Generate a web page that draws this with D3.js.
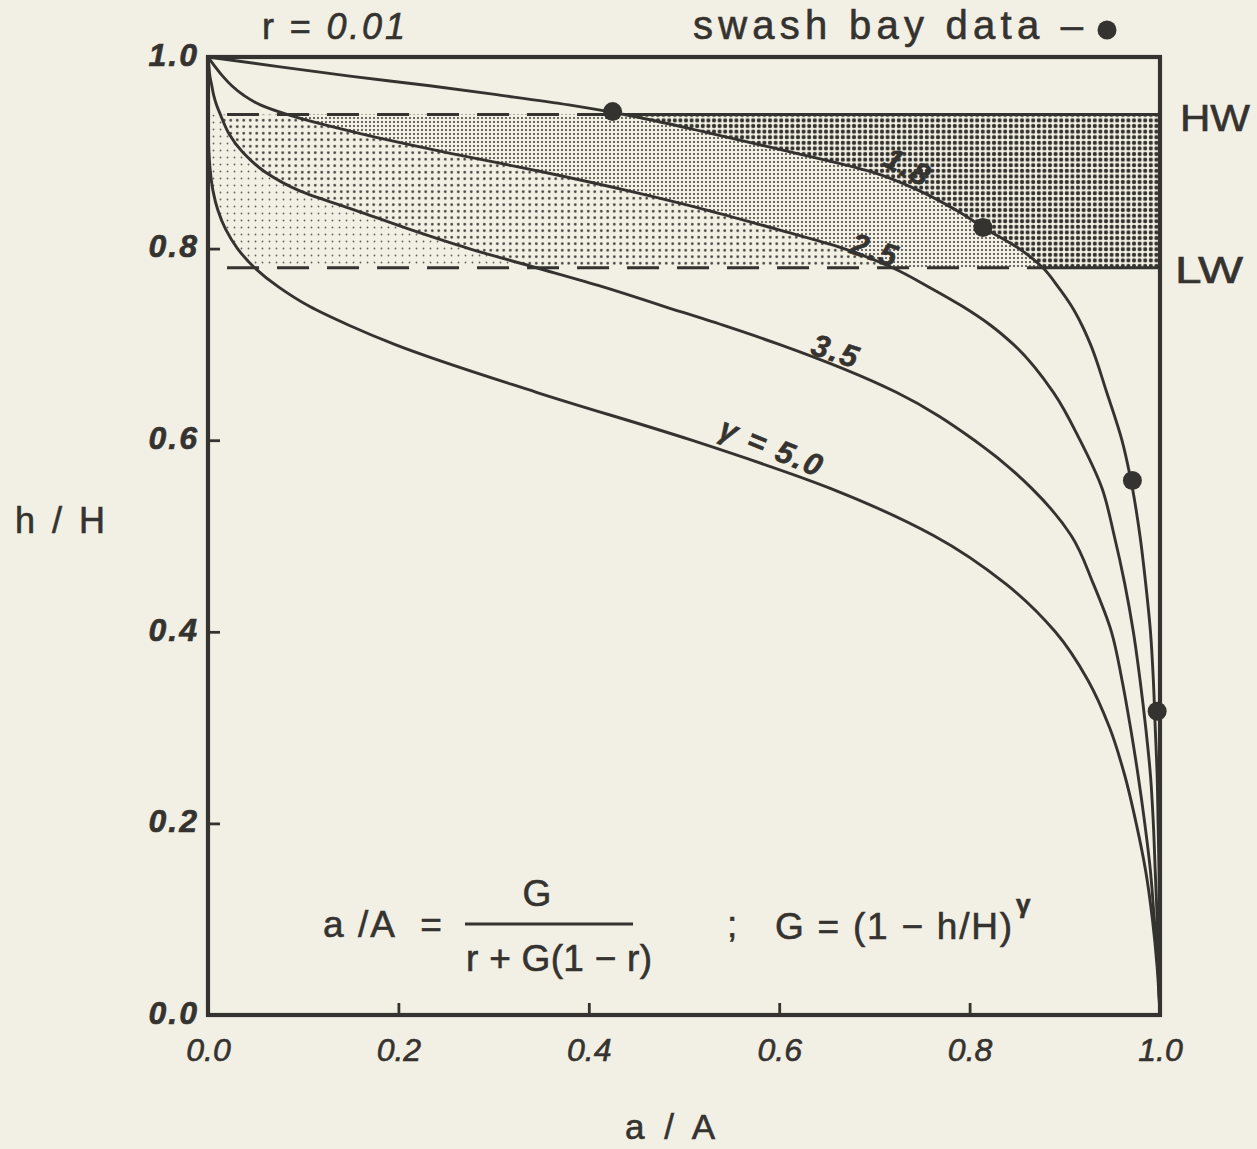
<!DOCTYPE html>
<html>
<head>
<meta charset="utf-8">
<script src="https://cdn.jsdelivr.net/npm/d3@7"></script>
<style>
  body { margin: 0; background: #f2efe4; }
  svg { display: block; }
  text { fill: #35332f; stroke: #35332f; stroke-width: 0.6px; font-family: "Liberation Sans", Arial, sans-serif; }
</style>
</head>
<body>
<svg id="chart" width="1257" height="1149"></svg>
<script>
// h/H values shared by every curve (read downwards from the top of the plot)
const hGrid = [1.0, 0.99, 0.98, 0.97, 0.96, 0.95, 0.94, 0.92, 0.90, 0.88, 0.86, 0.84, 0.82, 0.80,
  0.78, 0.76, 0.74, 0.72, 0.70, 0.65, 0.60, 0.55, 0.50, 0.45, 0.40, 0.35, 0.30, 0.25, 0.20,
  0.15, 0.10, 0.05, 0.0];

const aGamma18 = [0, 0.074, 0.149, 0.233, 0.308, 0.379, 0.437, 0.529, 0.616, 0.697, 0.748, 0.786,
  0.818, 0.852, 0.877, 0.893, 0.907, 0.918, 0.927, 0.944, 0.960, 0.971, 0.979, 0.985, 0.990,
  0.993, 0.995, 0.997, 0.998, 0.999, 0.9995, 1.0, 1.0];
const aGamma25 = [0, 0.0074, 0.0154, 0.025, 0.0375, 0.055, 0.083, 0.160, 0.252, 0.352, 0.443,
  0.525, 0.598, 0.668, 0.719, 0.757, 0.792, 0.822, 0.846, 0.888, 0.916, 0.939, 0.952, 0.963,
  0.972, 0.979, 0.985, 0.990, 0.993, 0.995, 0.997, 0.998, 1.0];
const aGamma35 = [0, 0.001, 0.002, 0.004, 0.006, 0.009, 0.013, 0.022, 0.037, 0.060, 0.097, 0.155,
  0.212, 0.274, 0.345, 0.415, 0.478, 0.541, 0.600, 0.723, 0.805, 0.865, 0.907, 0.930, 0.949,
  0.960, 0.969, 0.977, 0.984, 0.990, 0.994, 0.998, 1.0];
const aGamma50 = [0, 0, 0, 0, 0, 0, 0.0001, 0.0003, 0.001, 0.0025, 0.0053, 0.0104, 0.0186, 0.031,
  0.049, 0.074, 0.106, 0.148, 0.196, 0.345, 0.508, 0.653, 0.763, 0.838, 0.890, 0.924, 0.947,
  0.963, 0.975, 0.985, 0.992, 0.997, 1.0];

const gammaLabels = ["1.8", "2.5", "3.5", "γ = 5.0"];

// swash bay observations
const swashA = [0.425, 0.814, 0.971, 0.997];
const swashH = [0.943, 0.822, 0.558, 0.317];

const tideHW = 0.94, tideLW = 0.78;
const tickValues = [0, 0.2, 0.4, 0.6, 0.8, 1.0];

const ink = "#35332f";
const svg = d3.select("#chart");

const x = d3.scaleLinear().domain([0, 1]).range([208, 1160]);
const y = d3.scaleLinear().domain([0, 1]).range([1015, 57]);

// halftone screens
const defs = svg.append("defs");
function dots(id, size, r, op) {
  const p = defs.append("pattern")
    .attr("id", id)
    .attr("patternUnits", "userSpaceOnUse")
    .attr("width", size)
    .attr("height", size);
  p.append("circle")
    .attr("cx", size / 2)
    .attr("cy", size / 2)
    .attr("r", r)
    .attr("fill", ink)
    .attr("fill-opacity", op);
}
dots("dotA", 5.6, 2.1, 1);
dots("dotB", 4, 1.0, 0.95);
dots("dotC", 6.5, 1.35, 0.95);
dots("dotD", 7, 0.9, 0.75);

defs.append("clipPath").attr("id", "tideBand")
  .append("rect")
  .attr("x", x(0))
  .attr("y", y(tideHW))
  .attr("width", x(1) - x(0))
  .attr("height", y(tideLW) - y(tideHW));

const ones = hGrid.map(function () { return 1; });

function between(left, right) {
  return d3.area()
    .curve(d3.curveMonotoneY)
    .y(function (d, i) { return y(hGrid[i]); })
    .x0(function (d, i) { return x(left[i]); })
    .x1(function (d, i) { return x(right[i]); })(hGrid);
}

const band = svg.append("g").attr("clip-path", "url(#tideBand)");
band.append("path").attr("d", between(aGamma18, ones)).attr("fill", "url(#dotA)");
band.append("path").attr("d", between(aGamma25, aGamma18)).attr("fill", "url(#dotB)");
band.append("path").attr("d", between(aGamma35, aGamma25)).attr("fill", "url(#dotC)");
band.append("path").attr("d", between(aGamma50, aGamma35)).attr("fill", "url(#dotD)");

// HW / LW levels: dashed to the 1.8 curve, solid edge of the dark screen after it
const hwEdge = aGamma18[hGrid.indexOf(tideHW)];
const lwEdge = aGamma18[hGrid.indexOf(tideLW)];
[[tideHW, hwEdge], [tideLW, lwEdge]].forEach(function (lv) {
  svg.append("line")
    .attr("x1", x(0.02)).attr("x2", x(lv[1]))
    .attr("y1", y(lv[0])).attr("y2", y(lv[0]))
    .attr("stroke", ink).attr("stroke-width", 2.8)
    .attr("stroke-dasharray", "32,18");
  svg.append("line")
    .attr("x1", x(lv[1])).attr("x2", x(1))
    .attr("y1", y(lv[0])).attr("y2", y(lv[0]))
    .attr("stroke", ink).attr("stroke-width", 2.8);
});

// curves
const line = d3.line()
  .curve(d3.curveMonotoneY)
  .x(function (d) { return x(d); })
  .y(function (d, i) { return y(hGrid[i]); });

[aGamma18, aGamma25, aGamma35, aGamma50].forEach(function (s) {
  svg.append("path")
    .attr("d", line(s))
    .attr("fill", "none")
    .attr("stroke", ink)
    .attr("stroke-width", 2.9);
});

// frame
svg.append("rect")
  .attr("x", x(0)).attr("y", y(1))
  .attr("width", x(1) - x(0)).attr("height", y(0) - y(1))
  .attr("fill", "none")
  .attr("stroke", ink)
  .attr("stroke-width", 4.2);

// axes with inward ticks
const yAxis = svg.append("g")
  .attr("transform", "translate(" + x(0) + ",0)")
  .call(d3.axisLeft(y).tickValues(tickValues).tickSize(-12).tickSizeOuter(0).tickPadding(9)
    .tickFormat(d3.format(".1f")));
const xAxis = svg.append("g")
  .attr("transform", "translate(0," + y(0) + ")")
  .call(d3.axisBottom(x).tickValues(tickValues).tickSize(-12).tickSizeOuter(0).tickPadding(20)
    .tickFormat(d3.format(".1f")));
[yAxis, xAxis].forEach(function (a) {
  a.select(".domain").remove();
  a.selectAll(".tick line").attr("stroke", ink).attr("stroke-width", 2.8);
  a.attr("font-family", null).attr("font-size", null);
});
yAxis.selectAll(".tick text")
  .attr("fill", ink)
  .style("font-size", "32px")
  .style("font-style", "italic")
  .style("font-weight", "bold")
  .style("letter-spacing", "2px")
  .attr("dy", "0.26em");
xAxis.selectAll(".tick text")
  .attr("fill", ink)
  .style("font-family", "'Liberation Sans Narrow', 'Liberation Sans', sans-serif")
  .style("font-size", "32px")
  .style("font-style", "italic")
  .attr("dy", "0.8em");

// swash bay data points
svg.selectAll(".swash")
  .data(swashA)
  .enter().append("circle")
  .attr("class", "swash")
  .attr("cx", function (d) { return x(d); })
  .attr("cy", function (d, i) { return y(swashH[i]); })
  .attr("r", 9.5)
  .attr("fill", ink);

// curve labels
const labelPos = [[908, 167, 28], [875, 250, 18], [836, 351, 18], [772, 447, 22]];
svg.selectAll(".glabel")
  .data(gammaLabels)
  .enter().append("text")
  .attr("class", "glabel")
  .attr("text-anchor", "middle")
  .attr("transform", function (d, i) {
    return "translate(" + labelPos[i][0] + "," + labelPos[i][1] + ") rotate(" + labelPos[i][2] + ")";
  })
  .attr("dy", "0.35em")
  .style("font-size", "31px")
  .style("font-style", "italic")
  .style("font-weight", "bold")
  .style("letter-spacing", "2px")
  .text(function (d) { return d; });

// titles
const rTitle = svg.append("text").attr("x", 262).attr("y", 39)
  .attr("textLength", 143).attr("lengthAdjust", "spacing")
  .style("font-size", "36px");
rTitle.append("tspan").text("r = ");
rTitle.append("tspan").style("font-style", "italic").text("0.01");

svg.append("text")
  .attr("x", 693).attr("y", 39)
  .attr("textLength", 390).attr("lengthAdjust", "spacing")
  .style("font-size", "40px")
  .text("swash bay data –");
svg.append("circle").attr("cx", 1107).attr("cy", 30).attr("r", 9.5).attr("fill", ink);

svg.append("text").attr("x", 1180).attr("y", 131)
  .attr("textLength", 70).attr("lengthAdjust", "spacingAndGlyphs")
  .style("font-size", "36px").text("HW");
svg.append("text").attr("x", 1175).attr("y", 283)
  .attr("textLength", 68).attr("lengthAdjust", "spacingAndGlyphs")
  .style("font-size", "36px").text("LW");

svg.append("text")
  .attr("x", 15).attr("y", 533)
  .attr("textLength", 90).attr("lengthAdjust", "spacing")
  .style("font-size", "36px")
  .text("h / H");
svg.append("text")
  .attr("x", 625).attr("y", 1139)
  .attr("textLength", 90).attr("lengthAdjust", "spacing")
  .style("font-size", "35px")
  .text("a / A");

// formula
const fs = "37px";
svg.append("text").attr("x", 323).attr("y", 937)
  .attr("textLength", 72).attr("lengthAdjust", "spacing")
  .style("font-size", fs).text("a /A");
svg.append("text").attr("x", 431).attr("y", 937).attr("text-anchor", "middle")
  .style("font-size", fs).text("=");
svg.append("line").attr("x1", 465).attr("x2", 633).attr("y1", 924).attr("y2", 924)
  .attr("stroke", ink).attr("stroke-width", 2.8);
svg.append("text").attr("x", 537).attr("y", 906).attr("text-anchor", "middle")
  .style("font-size", fs).text("G");
svg.append("text").attr("x", 466).attr("y", 971)
  .attr("textLength", 186).attr("lengthAdjust", "spacing")
  .style("font-size", fs).text("r + G(1 − r)");
svg.append("text").attr("x", 727).attr("y", 937)
  .style("font-size", fs).text(";");
svg.append("text").attr("x", 775).attr("y", 939)
  .attr("textLength", 237).attr("lengthAdjust", "spacing")
  .style("font-size", fs).text("G = (1 − h/H)");
svg.append("text").attr("x", 1016).attr("y", 913)
  .style("font-size", "26px").style("font-weight", "bold").text("γ");
</script>
</body>
</html>
